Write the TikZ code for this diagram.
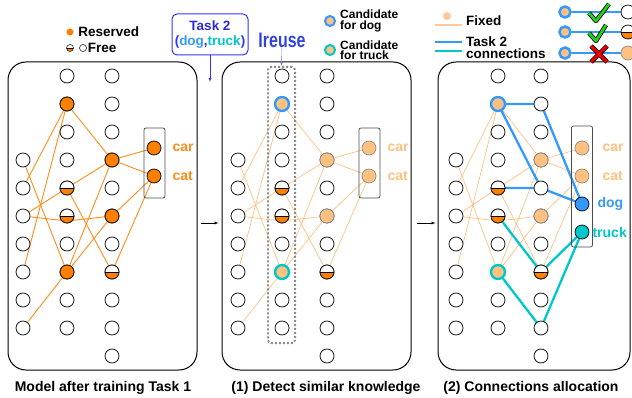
\documentclass[tikz,border=0pt]{standalone}
\usepackage{fontspec}
\setmainfont{Liberation Sans}
\usetikzlibrary{positioning,calc,arrows}
\pgfdeclarelayer{background}
\pgfsetlayers{background,main}
\definecolor{orgA}{HTML}{FF8000}
\definecolor{orgB}{HTML}{FF8C1A}
\definecolor{orgL}{HTML}{FFC080}
\definecolor{orgE}{HTML}{FFB870}
\definecolor{orgK}{HTML}{FCC8A0}
\definecolor{blueD}{HTML}{3399FF}
\definecolor{cyanT}{HTML}{00C8C8}
\definecolor{taskblue}{HTML}{3333FF}
\definecolor{reuseblue}{HTML}{3344DD}
\definecolor{okgreen}{HTML}{22D022}
\definecolor{nored}{HTML}{EE0000}

\tikzset{
  free/.style={circle,draw,fill=white,minimum size=14pt,inner sep=0pt,line width=0.7pt},
  rsv/.style={free,fill=orgA},
  fixd/.style={free,draw=black!45,fill=orgL},
  half/.style={free,path picture={
      \fill[orgA] (path picture bounding box.west) rectangle (path picture bounding box.south east);
      \draw[line width=0.7pt] (path picture bounding box.west) -- (path picture bounding box.east);}},
  canddog/.style={fixd,draw=blueD,line width=2.4pt},
  candtruck/.style={fixd,draw=cyanT,line width=2.4pt},
  panel/.style={draw,line width=1pt,rounded corners=18pt,minimum height=308pt},
  outbox/.style={draw=black!70,rounded corners=2pt,line width=0.8pt,minimum width=21pt},
  oldedge/.style={orgB,line width=0.9pt},
  fixedge/.style={orgE,line width=0.6pt},
  dogedge/.style={blueD,line width=2.3pt},
  truckedge/.style={cyanT,line width=2.3pt},
  lbl/.style={font=\fontsize{13.5}{12}\selectfont\bfseries,anchor=west,inner sep=0pt,align=left},
  outlbl/.style={font=\fontsize{14}{14}\selectfont\bfseries,inner sep=0pt},
  captxt/.style={font=\fontsize{14}{14}\selectfont\bfseries,inner sep=0pt},
}

\begin{document}
\begin{tikzpicture}[x=1pt,y=-1pt,>=latex]
  \useasboundingbox (0,0) rectangle (632,398);

  % the three stages
  \node[panel,minimum width=189pt] (pa) at (102.5,216) {};
  \node[panel,minimum width=189pt] (pb) at (316.5,216) {};
  \node[panel,minimum width=192pt] (pc) at (534,216) {};

  % neurons
  \foreach \p/\xa/\xb/\xc in {a/23/67/112, b/238/282/327, c/456/498/541} {
    \foreach \r in {4,...,10} \node[free] (\p1-\r) at (\xa,{48+28*\r}) {};
    \foreach \r in {1,...,10} \node[free] (\p2-\r) at (\xb,{48+28*\r}) {};
    \foreach \r in {1,...,11} \node[free] (\p3-\r) at (\xc,{48+28*\r}) {};
    \foreach \r in {5,6} \node[half] (\p2-\r) at (\xb,{48+28*\r}) {};
    \node[half] (\p3-8) at (\xc,272) {};
  }

  % Task 1 model
  \node[rsv] (a2-2) at (67,104) {};
  \node[rsv] (a2-8) at (67,272) {};
  \node[rsv] (a3-4) at (112,160) {};
  \node[rsv] (a3-6) at (112,216) {};
  \node[outbox,minimum height=70pt] (oa) at (154.5,163) {};
  \node[rsv] (ao-1) at (154,148) {};
  \node[rsv] (ao-2) at (154,176) {};
  \node[outlbl,text=orgB,right=11pt of ao-1] (la1) {car};
  \node[outlbl,text=orgB,right=11pt of ao-2] (la2) {cat};

  % detect
  \node[draw=gray!90,line width=2pt,dash pattern=on 2pt off 2pt,rounded corners=3pt,
        minimum width=27pt,minimum height=276pt] (reusebox) at (281.5,205) {};
  \node[canddog] (b2-2) at (282,104) {};
  \node[candtruck] (b2-8) at (282,272) {};
  \node[fixd] (b3-4) at (327,160) {};
  \node[fixd] (b3-6) at (327,216) {};
  \node[outbox,minimum height=70pt] (ob) at (369.5,163) {};
  \node[fixd] (bo-1) at (369,148) {};
  \node[fixd] (bo-2) at (369,176) {};
  \node[outlbl,text=orgL,right=11pt of bo-1] (lb1) {car};
  \node[outlbl,text=orgL,right=11pt of bo-2] (lb2) {cat};

  % allocation
  \node[canddog] (c2-2) at (498,104) {};
  \node[candtruck] (c2-8) at (498,272) {};
  \node[fixd] (c3-4) at (541,160) {};
  \node[fixd] (c3-6) at (541,216) {};
  \node[outbox,minimum height=121pt] (oc) at (582,186.5) {};
  \node[fixd] (co-1) at (582,148) {};
  \node[fixd] (co-2) at (582,176) {};
  \node[free,fill=blueD] (co-3) at (582,204) {};
  \node[free,fill=cyanT] (co-4) at (582,232) {};
  \node[outlbl,text=orgL,right=13pt of co-1] (lc1) {car};
  \node[outlbl,text=orgL,right=13pt of co-2] (lc2) {cat};
  \node[outlbl,text=blueD,right=8pt of co-3] (lc3) {dog};
  \node[outlbl,text=cyanT,right=3pt of co-4] (lc4) {truck};

  \begin{pgfonlayer}{background}
    \foreach \u/\v in {2-2/1-5, 2-2/1-8, 2-2/3-4, 1-4/2-8, 1-6/2-5, 2-5/3-4, 2-5/3-8,
                       2-8/3-4, 2-8/3-6, 3-4/o-1, 3-4/o-2, 3-6/o-2, 3-8/o-2} {
      \draw[oldedge] (a\u) -- (a\v);
      \draw[fixedge] (b\u) -- (b\v);
      \draw[fixedge] (c\u) -- (c\v);
    }
    \draw[oldedge] (a1-6) -- ([yshift=-5pt]a2-6.center) -- (a3-6);
    \draw[fixedge] (b1-6) -- ([yshift=-5pt]b2-6.center) -- (b3-6);
    \draw[fixedge] (c1-6) -- ([yshift=-5pt]c2-6.center) -- (c3-6);
    \draw[oldedge] (a1-10) -- (a2-8);
    \draw[fixedge] (b1-10) -- (b2-8);
    % task 2 connections
    \draw[dogedge] (c2-2.center) -- (c3-2.center) -- (co-3.center);
    \draw[dogedge] (c2-2.center) -- (c3-5.center);
    \draw[dogedge] (c2-5.center) -- (c3-5.center) -- (co-3.center);
    \draw[truckedge] (c2-6.center) -- (c3-8.center) -- (co-4.center);
    \draw[truckedge] (c2-8.center) -- (c3-10.center) -- (co-4.center);
  \end{pgfonlayer}

  \draw[->,shorten <=3pt,shorten >=3pt] ([yshift=-7pt]pa.east) -- ([yshift=-7pt]pb.west);
  \draw[->,shorten <=5pt,shorten >=2pt] ([yshift=-7pt]pb.east) -- ([yshift=-7pt]pc.west);

  % task 2 and reuse
  \node[draw=taskblue,line width=1pt,rounded corners=5pt,align=center,minimum width=76pt,
        minimum height=41pt,inner sep=1pt,font=\fontsize{13.5}{15}\selectfont\bfseries] (task) at (210,34.5)
    {\textcolor{taskblue!85!black}{Task 2}\\\textcolor{taskblue}{(}\textcolor{blueD}{dog}\textcolor{taskblue}{,}\textcolor{cyanT}{truck}\textcolor{taskblue}{)}};
  \coordinate (taskend) at (210,82);
  \draw[->,taskblue] (task) -- (taskend);
  \node[text=reuseblue,inner sep=0pt] (ireuse) at (282,40)
    {\scalebox{0.76}[1]{\fontsize{21}{21}\selectfont\bfseries Ireuse}};
  \draw[->,reuseblue!70] (ireuse) -- (reusebox.north);

  % legend 1
  \node[circle,fill=orgA,minimum size=7pt,inner sep=0pt] (keyrsv) at (70,32) {};
  \node[lbl,right=4.5pt of keyrsv] (txtrsv) {Reserved};
  \node[half,minimum size=7pt,line width=0.5pt] (keyhalf) at (70,48) {};
  \node[free,minimum size=7pt,line width=0.5pt,right=5.5pt of keyhalf] (keyfree) {};
  \node[lbl,right=1pt of keyfree] (txtfree) {Free};

  % legend 2
  \node[canddog,minimum size=10pt,line width=2pt] (keydog) at (330,21) {};
  \node[lbl,font=\fontsize{12}{10.5}\selectfont\bfseries,right=4pt of keydog] (txtdog) {Candidate\\for dog};
  \node[candtruck,minimum size=10pt,line width=2pt] (keytruck) at (330,50) {};
  \node[lbl,font=\fontsize{12}{10.5}\selectfont\bfseries,right=4pt of keytruck] (txttruck) {Candidate\\for truck};

  % legend 3
  \node[circle,fill=orgK,minimum size=8pt,inner sep=0pt] (keyfix) at (447,16) {};
  \coordinate (fixa) at (435,25);
  \coordinate (fixb) at (462,25);
  \draw[orgK,line width=1.5pt] (fixa) -- (fixb);
  \node[lbl] (txtfix) at (466,21) {Fixed};
  \coordinate (dga) at (435,42);
  \coordinate (dgb) at (462,42);
  \coordinate (tra) at (435,51);
  \coordinate (trb) at (462,51);
  \draw[dogedge] (dga) -- (dgb);
  \draw[truckedge] (tra) -- (trb);
  \node[lbl] (txtconn) at (466,48) {Task 2\\connections};

  % allowed / not allowed
  \foreach \r/\y in {1/12,2/32,3/53}
    \node[canddog,minimum size=11pt,line width=2.5pt] (ikl\r) at (565,\y) {};
  \node[free] (ikr1) at (628,12) {};
  \node[half] (ikr2) at (628,32) {};
  \node[fixd] (ikr3) at (628,53) {};
  \begin{pgfonlayer}{background}
    \foreach \r in {1,2,3} \draw[dogedge] (ikl\r) -- (ikr\r);
  \end{pgfonlayer}
  \draw[line width=4.4pt,line join=round] (589,13) -- (596,21) -- (609,4);
  \draw[okgreen,line width=2.8pt,line join=round] (589,13) -- (596,21) -- (609,4);
  \draw[line width=4.4pt,line join=round] (589,33) -- (596,41) -- (606,25);
  \draw[okgreen,line width=2.8pt,line join=round] (589,33) -- (596,41) -- (606,25);
  \draw[line width=4.6pt] (591,46) -- (607,62) (607,46) -- (591,62);
  \draw[nored,line width=3pt] (591,46) -- (607,62) (607,46) -- (591,62);

  % captions
  \node[captxt] (capa) at (103,388) {Model after training Task 1};
  \node[captxt] (capb) at (326,388) {(1) Detect similar knowledge};
  \node[captxt] (capc) at (531,388) {(2) Connections allocation};
\end{tikzpicture}
\end{document}
